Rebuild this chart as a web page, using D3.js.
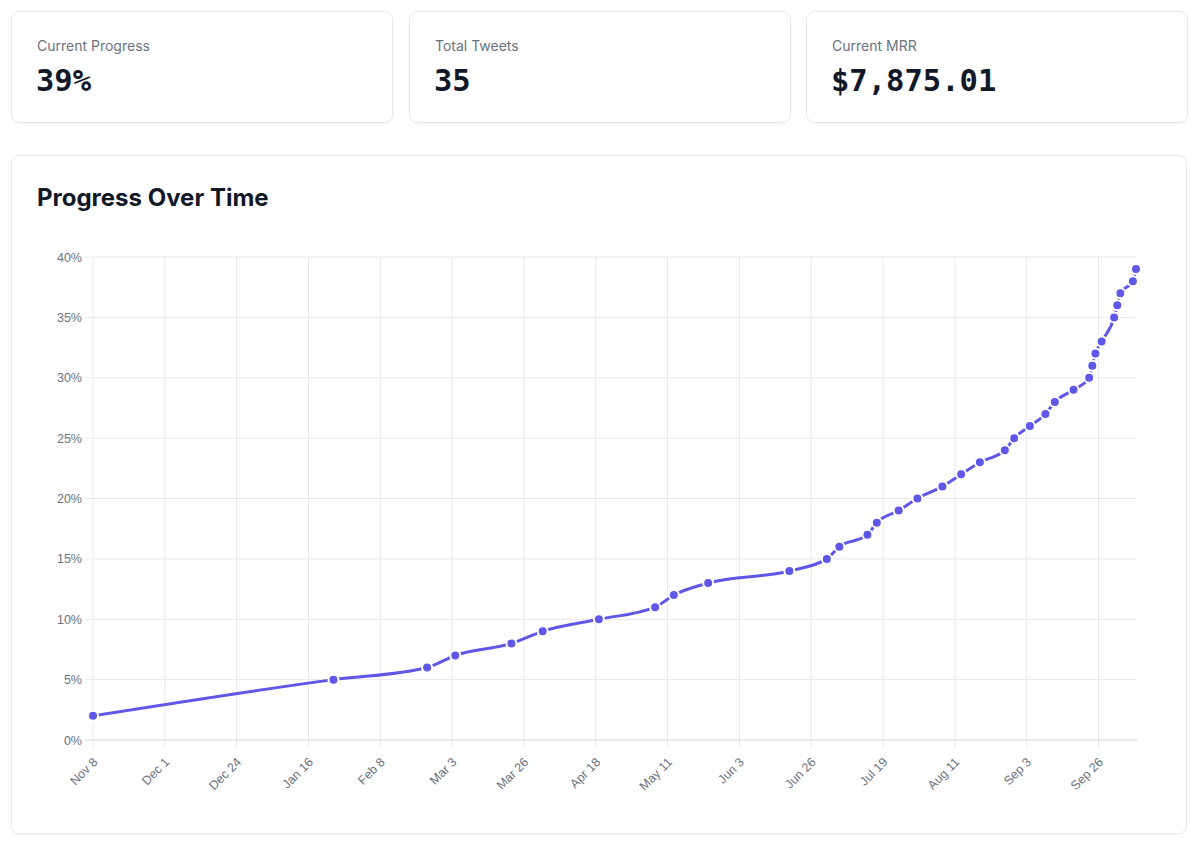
<!DOCTYPE html>
<html>
<head>
<meta charset="utf-8">
<script src="https://cdn.jsdelivr.net/npm/d3@7"></script>
<style>
  html, body { margin: 0; padding: 0; background: #ffffff; }
  svg { display: block; }
</style>
</head>
<body>
<svg id="chart" width="1200" height="849"></svg>
<script>
// ---- data ----
const statLabels = ["Current Progress", "Total Tweets", "Current MRR"];
const statValues = ["39%", "35", "$7,875.01"];

const dates = [
  "2022-11-08", "2023-01-24", "2023-02-23", "2023-03-04", "2023-03-22",
  "2023-04-01", "2023-04-19", "2023-05-07", "2023-05-13", "2023-05-24",
  "2023-06-19", "2023-07-01", "2023-07-05", "2023-07-14", "2023-07-17",
  "2023-07-24", "2023-07-30", "2023-08-07", "2023-08-13", "2023-08-19",
  "2023-08-27", "2023-08-30", "2023-09-04", "2023-09-09", "2023-09-12",
  "2023-09-18", "2023-09-23", "2023-09-24", "2023-09-25", "2023-09-27",
  "2023-10-01", "2023-10-02", "2023-10-03", "2023-10-07", "2023-10-08"
];
const progress = [
  2, 5, 6, 7, 8, 9, 10, 11, 12, 13,
  14, 15, 16, 17, 18, 19, 20, 21, 22, 23,
  24, 25, 26, 27, 28, 29, 30, 31, 32, 33,
  35, 36, 37, 38, 39
];
const xTickDates = [
  "2022-11-08", "2022-12-01", "2022-12-24", "2023-01-16", "2023-02-08",
  "2023-03-03", "2023-03-26", "2023-04-18", "2023-05-11", "2023-06-03",
  "2023-06-26", "2023-07-19", "2023-08-11", "2023-09-03", "2023-09-26"
];
const xTickLabels = [
  "Nov 8", "Dec 1", "Dec 24", "Jan 16", "Feb 8", "Mar 3", "Mar 26", "Apr 18",
  "May 11", "Jun 3", "Jun 26", "Jul 19", "Aug 11", "Sep 3", "Sep 26"
];
const yTicks = [0, 5, 10, 15, 20, 25, 30, 35, 40];
const chartTitle = "Progress Over Time";

// ---- drawing ----
const parse = d3.utcParse("%Y-%m-%d");
const points = dates.map((d, i) => ({ date: parse(d), value: progress[i] }));
const svg = d3.select("#chart");
const FONT = "Inter, 'Noto Sans', sans-serif";
const AXISFONT = "'Liberation Sans', Arial, sans-serif";
const MONO = "'DejaVu Sans Mono', 'Liberation Mono', monospace";

const defs = svg.append("defs");
const f = defs.append("filter").attr("id", "sh").attr("x", "-5%").attr("y", "-5%").attr("width", "110%").attr("height", "120%");
f.append("feDropShadow").attr("dx", 0).attr("dy", 1).attr("stdDeviation", 1).attr("flood-color", "#000").attr("flood-opacity", 0.05);

// stat cards
const cardX = [11, 409, 806];
const cardW = 381;
statLabels.forEach((lab, i) => {
  const g = svg.append("g").attr("transform", `translate(${cardX[i]},11)`);
  g.append("rect").attr("x", 0.5).attr("y", 0.5).attr("width", cardW).attr("height", 111)
    .attr("rx", 8).attr("fill", "#fff").attr("stroke", "#e5e7eb").attr("filter", "url(#sh)");
  g.append("text").attr("x", 26).attr("y", 40).attr("font-family", FONT).attr("font-size", 14)
    .attr("fill", "#6b7280").text(lab);
  g.append("text").attr("x", 25).attr("y", 80).attr("font-family", MONO).attr("font-weight", 700)
    .attr("font-size", 30.5).attr("fill", "#111827").text(statValues[i]);
});

// chart card
svg.append("rect").attr("x", 11.5).attr("y", 155.5).attr("width", 1175).attr("height", 678)
  .attr("rx", 8).attr("fill", "#fff").attr("stroke", "#e5e7eb").attr("filter", "url(#sh)");
svg.append("text").attr("x", 37).attr("y", 206).attr("font-family", FONT).attr("font-weight", 700)
  .attr("font-size", 24).attr("fill", "#111827").text(chartTitle);

const x = d3.scaleUtc()
  .domain([parse(dates[0]), parse(dates[dates.length - 1])])
  .range([93, 1136]);
const y = d3.scaleLinear().domain([0, 40]).range([740, 257]);

// grid lines
const grid = svg.append("g");
grid.selectAll("line.v").data(xTickDates.map(parse)).join("line")
  .attr("x1", d => x(d)).attr("x2", d => x(d))
  .attr("y1", y(40)).attr("y2", 748)
  .attr("stroke", "#e8e8ec").attr("stroke-width", 1);
grid.selectAll("line.h").data(yTicks).join("line")
  .attr("x1", 85).attr("x2", 1137)
  .attr("y1", d => y(d)).attr("y2", d => y(d))
  .attr("stroke", d => d === 0 ? "#d4d4d8" : "#e8e8ec").attr("stroke-width", 1);

// y axis labels
const yAxis = d3.axisLeft(y).tickValues(yTicks).tickFormat(d => d + "%").tickSize(0).tickPadding(0);
const gy = svg.append("g").attr("transform", "translate(82,0)").call(yAxis);
gy.select(".domain").remove();
gy.selectAll("text").attr("font-family", AXISFONT).attr("font-size", 12.5).attr("fill", "#6b7280");

// x axis labels
const xAxis = d3.axisBottom(x).tickValues(xTickDates.map(parse))
  .tickFormat((d, i) => xTickLabels[i]).tickSize(0);
const gx = svg.append("g").attr("transform", "translate(0,740)").call(xAxis);
gx.select(".domain").remove();
gx.selectAll("text")
  .attr("font-family", AXISFONT).attr("font-size", 12.5).attr("fill", "#6b7280")
  .attr("text-anchor", "end")
  .attr("dy", "0.32em").attr("y", 0)
  .attr("transform", "translate(2,20) rotate(-45)");

// line
const line = d3.line().x(d => x(d.date)).y(d => y(d.value)).curve(d3.curveMonotoneX);
svg.append("path").datum(points).attr("d", line)
  .attr("fill", "none").attr("stroke", "#5e57e8").attr("stroke-width", 3)
  .attr("stroke-linejoin", "round").attr("stroke-linecap", "round");

svg.append("g").selectAll("circle").data(points).join("circle")
  .attr("cx", d => x(d.date)).attr("cy", d => y(d.value)).attr("r", 5)
  .attr("fill", "#5e57e8").attr("stroke", "#fff").attr("stroke-width", 2);
</script>
</body>
</html>
